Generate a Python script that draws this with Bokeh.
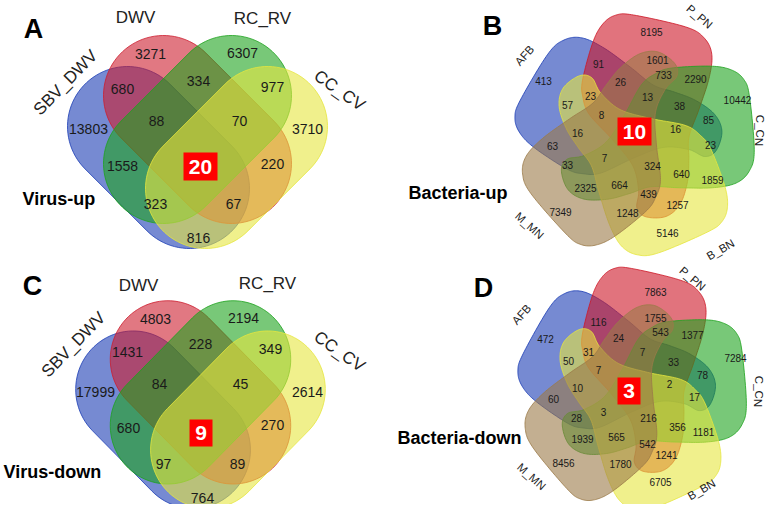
import numpy as np
from bokeh.plotting import figure
from bokeh.models import Range1d
from bokeh.embed import file_html
from bokeh.resources import INLINE
from bokeh.core.properties import value

# ---------------- data ----------------
virus_sets = ["SBV_DWV", "DWV", "RC_RV", "CC_CV"]
bacteria_sets = ["AFB", "P_PN", "C_CN", "B_BN", "M_MN"]

# 4-set regions (S=SBV_DWV, D=DWV, R=RC_RV, C=CC_CV)
virus_regions = ["D", "R", "SD", "DR", "RC", "S", "SDR", "DRC", "C", "SR", "SDRC", "DC", "SRC", "SDC", "SC"]
virus_up = [3271, 6307, 680, 334, 977, 13803, 88, 70, 3710, 1558, 20, 220, 323, 67, 816]
virus_down = [4803, 2194, 1431, 228, 349, 17999, 84, 45, 2614, 680, 9, 270, 97, 89, 764]

bacteria_up = [8195, 413, 91, 1601, 26, 733, 2290, 10442, 57, 23, 13, 38, 8, 10, 16, 16,
               85, 63, 23, 7, 33, 324, 640, 1859, 2325, 664, 439, 1257, 7349, 1248, 5146]
bacteria_down = [7863, 472, 116, 1755, 24, 543, 1377, 7284, 50, 31, 7, 33, 7, 3, 10, 2,
                 78, 60, 17, 3, 28, 216, 356, 1181, 1939, 565, 542, 1241, 8456, 1780, 6705]
center4 = 10   # index of the all-sets region
center5 = 13

# ---------------- layout ----------------
xy_A = [(150, 53), (242, 52), (122, 88), (198, 80), (272, 86), (88, 128), (156, 120), (239, 120),
        (307, 128), (122, 165), (200, 166), (272, 163), (155, 203), (233, 203), (198, 237)]
xy_C = [(155, 318), (243, 317), (127, 351), (200, 343), (270, 348), (95, 391), (159, 383), (240, 383),
        (307, 391), (128, 427), (200.5, 432.5), (272, 424), (163, 463), (237, 463), (202, 497)]
xy_B = [(651, 31), (543, 80), (598, 63), (657, 59), (620, 81), (663, 74), (695, 78), (737, 99),
        (567, 104), (590, 95), (647, 96), (679, 105), (601, 114), (634, 131), (577, 132), (675, 128),
        (708, 119), (552, 145), (710, 144), (604, 157), (567, 164), (652, 165), (681, 173), (712, 179),
        (585, 187), (619, 184), (648, 193), (677, 204), (560, 211), (627, 212), (667, 232)]
xy_D = [(655, 291), (545, 338), (598, 321), (655, 317), (618, 337), (660, 331), (692, 334), (735, 357),
        (568, 360), (588, 351), (642, 351), (673, 361), (598, 369), (628.5, 390.5), (577, 387), (669, 383),
        (702, 374), (553, 398), (694, 396), (603, 411), (576, 417), (648, 417), (677, 426), (703, 431),
        (582, 438), (616, 436), (647, 443), (666, 454), (563, 462), (620, 463), (660, 481)]

# stadium shapes (local units) for the 4-set diagram: S, D, R, C
st_c1 = [(-70, -14), (-34, -45), (34, -45), (70, -14)]
st_c2 = [(-8, 48), (34, 23), (-34, 23), (8, 48)]
st_r = 60
col4 = ["#1a3cb4", "#cd1e2f", "#1ea31e", "#e6e63f"]

# one flower petal (screen units, relative to petal_ref) for the 5-set diagram
petal = [(556, 170), (562, 158), (580, 154), (603, 140), (622, 112), (640, 80), (655, 68), (672, 62),
         (713, 60), (735, 64), (748, 74), (754, 92), (759, 148), (754, 170), (740, 183), (715, 188),
         (680, 188), (650, 187), (628, 194), (605, 200), (580, 200), (563, 190)]
petal_ref = (634, 133)
order5 = ["AFB", "P_PN", "C_CN", "B_BN", "M_MN"]
rot5 = {"C_CN": 0, "P_PN": 1, "AFB": 2, "M_MN": 3, "B_BN": 4}
col5 = {"AFB": "#1a3cb4", "P_PN": "#cd1626", "C_CN": "#1ea31e", "B_BN": "#e6e63f", "M_MN": "#9b7a48"}

FONT = value("Liberation Sans")


def stadium(c1, c2, r, n=48):
    c1 = np.array(c1, float)
    c2 = np.array(c2, float)
    d = c2 - c1
    a = np.arctan2(d[1], d[0])
    t1 = np.linspace(a - np.pi / 2, a + np.pi / 2, n)
    t2 = np.linspace(a + np.pi / 2, a + 3 * np.pi / 2, n)
    arc2 = c2 + r * np.c_[np.cos(t1), np.sin(t1)]
    arc1 = c1 + r * np.c_[np.cos(t2), np.sin(t2)]
    return np.vstack([arc2, arc1])


def smooth_closed(pts, n=14):
    P = np.array(pts, float)
    N = len(P)
    out = []
    for i in range(N):
        p0, p1, p2, p3 = P[i - 1], P[i], P[(i + 1) % N], P[(i + 2) % N]
        for t in np.linspace(0, 1, n, endpoint=False):
            t2, t3 = t * t, t * t * t
            out.append(0.5 * ((2 * p1) + (-p0 + p2) * t + (2 * p0 - 5 * p1 + 4 * p2 - p3) * t2
                              + (-p0 + 3 * p1 - 3 * p2 + p3) * t3))
    return np.array(out)


p = figure(width=765, height=504, x_range=Range1d(0, 765), y_range=Range1d(504, 0),
           output_backend="svg", toolbar_location=None, min_border=0,
           x_axis_location=None, y_axis_location=None)
p.grid.visible = False
p.outline_line_color = None
p.background_fill_color = "white"


def venn4(origin, scale, counts, xy, title, letter, letter_xy, title_xy, name_xy, box):
    ox, oy = origin
    sx, sy = scale
    for c1, c2, col in zip(st_c1, st_c2, col4):
        poly = stadium(c1, c2, st_r)
        p.patch(ox + sx * poly[:, 0], oy + sy * poly[:, 1], fill_color=col, fill_alpha=0.6,
                line_color=col, line_alpha=0.8, line_width=1)
    bx, by, bw, bh = box
    p.rect([bx], [by], width=bw, height=bh, fill_color="#ff0000", line_color=None)
    xs = [q[0] for q in xy]
    ys = [q[1] for q in xy]
    txt = [str(v) for v in counts]
    normal = [i for i in range(len(txt)) if i != center4]
    p.text([xs[i] for i in normal], [ys[i] for i in normal], text=[txt[i] for i in normal],
           text_font=FONT, text_font_size="14px", text_color="#1a1a1a",
           text_align="center", text_baseline="middle")
    p.text([xs[center4]], [ys[center4]], text=[txt[center4]], text_font=FONT,
           text_font_size="21px", text_font_style="bold", text_color="white",
           text_align="center", text_baseline="middle")
    angs = [0.80, 0.0, 0.0, -0.61]
    for name, (nx, ny), a in zip(virus_sets, name_xy, angs):
        p.text([nx], [ny], text=[name], angle=a, text_font=FONT, text_font_size="17px",
               text_color="#222222", text_align="center", text_baseline="middle")
    p.text([letter_xy[0]], [letter_xy[1]], text=[letter], text_font=FONT, text_font_size="27px",
           text_font_style="bold", text_color="black", text_align="center", text_baseline="middle")
    p.text([title_xy[0]], [title_xy[1]], text=[title], text_font=FONT, text_font_size="18px",
           text_font_style="bold", text_color="black", text_align="left", text_baseline="middle")


def venn5(origin, scale, counts, xy, title, letter, letter_xy, title_xy, name_xy, name_ang, box):
    ox, oy = origin
    sx, sy = scale
    base = smooth_closed(petal) - np.array(petal_ref, float)
    for name in order5:
        phi = np.deg2rad(72 * rot5[name])
        dx = base[:, 0] * np.cos(phi) + base[:, 1] * np.sin(phi)
        dy = -base[:, 0] * np.sin(phi) + base[:, 1] * np.cos(phi)
        col = col5[name]
        p.patch(ox + sx * dx, oy + sy * dy, fill_color=col, fill_alpha=0.6,
                line_color=col, line_alpha=0.8, line_width=1)
    bx, by, bw, bh = box
    p.rect([bx], [by], width=bw, height=bh, fill_color="#ff0000", line_color=None)
    xs = [q[0] for q in xy]
    ys = [q[1] for q in xy]
    txt = [str(v) for v in counts]
    normal = [i for i in range(len(txt)) if i != center5]
    p.text([xs[i] for i in normal], [ys[i] for i in normal], text=[txt[i] for i in normal],
           text_font=FONT, text_font_size="10px", text_color="#1a1a1a",
           text_align="center", text_baseline="middle")
    p.text([xs[center5]], [ys[center5]], text=[txt[center5]], text_font=FONT,
           text_font_size="21px", text_font_style="bold", text_color="white",
           text_align="center", text_baseline="middle")
    for name, (nx, ny), a in zip(bacteria_sets, name_xy, name_ang):
        p.text([nx], [ny], text=[name], angle=a, text_font=FONT, text_font_size="11.5px",
               text_color="#222222", text_align="center", text_baseline="middle")
    p.text([letter_xy[0]], [letter_xy[1]], text=[letter], text_font=FONT, text_font_size="27px",
           text_font_style="bold", text_color="black", text_align="center", text_baseline="middle")
    p.text([title_xy[0]], [title_xy[1]], text=[title], text_font=FONT, text_font_size="18px",
           text_font_style="bold", text_color="black", text_align="left", text_baseline="middle")


venn4((197, 140), (1.0, 1.0), virus_up, xy_A, "Virus-up", "A", (33, 28), (22, 198),
      [(65, 82), (135, 17), (262, 18), (339, 90)], (200, 166, 34, 28))
venn4((200, 402.6), (0.96, 0.975), virus_down, xy_C, "Virus-down", "C", (32, 285), (3, 471),
      [(73, 344), (138, 285), (267, 283), (339, 351)], (200.5, 432.5, 23, 27))

ang5 = [0.84, -0.70, -1.5708, 0.52, -0.73]
venn5((635, 135), (0.95, 0.95), bacteria_up, xy_B, "Bacteria-up", "B", (492, 25), (408, 192),
      [(524, 55), (699, 16), (759, 130), (720, 249), (529, 225)], ang5, (634, 131, 34, 28))
venn5((632.5, 389), (0.907, 0.955), bacteria_down, xy_D, "Bacteria-down", "D", (483, 287), (397, 437),
      [(521, 314), (692, 278), (758, 391), (701, 489), (531, 476)], ang5, (628.5, 390.5, 23, 27))

open("out.html", "w").write(file_html(p, INLINE))
